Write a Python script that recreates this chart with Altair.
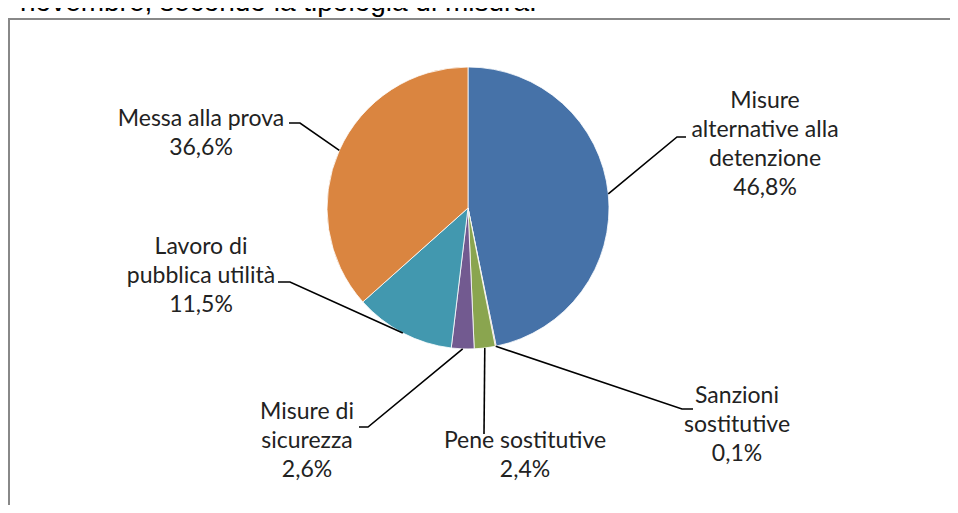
import math
import altair as alt
import pandas as pd

# ---------------- data ----------------
categories = [
    "Misure alternative alla detenzione",
    "Sanzioni sostitutive",
    "Pene sostitutive",
    "Misure di sicurezza",
    "Lavoro di pubblica utilità",
    "Messa alla prova",
]
label_names = [
    "Misure\nalternative alla\ndetenzione",
    "Sanzioni\nsostitutive",
    "Pene sostitutive",
    "Misure di\nsicurezza",
    "Lavoro di\npubblica utilità",
    "Messa alla prova",
]
values = [46.8, 0.1, 2.4, 2.6, 11.5, 36.6]
pct_labels = ["46,8%", "0,1%", "2,4%", "2,6%", "11,5%", "36,6%"]
colors = ["#4672A8", "#AA4643", "#8AA54F", "#725A90", "#4298AF", "#DA8540"]
title_text = "novembre, secondo la tipologia di misura."

# ---------------- layout (page pixels) ----------------
W, H = 942, 497
CX, CY, R = 468, 208, 141          # pie centre and radius on the page
label_xy = [(765, 101), (737, 396), (525, 441), (307, 412), (201, 247), (201, 119)]  # first-line centres
elbow_xy = [(677, 137), (682, 409), (484, 434), (368, 427), (290, 282), (300, 123)]
end_xy = [(686, 137), (693, 409), (484, 434), (359, 427), (278, 282), (289, 123)]
title_xy = (20, 11)


def u(px):
    return (px - CX) / R


def v(py):
    return (CY - py) / R


xscale = alt.Scale(domain=[u(8), u(8 + W)], nice=False, zero=False)
yscale = alt.Scale(domain=[v(8 + H), v(8)], nice=False, zero=False)

pie_df = pd.DataFrame({"category": categories, "value": values, "idx": list(range(len(values)))})

# leader lines: start at the slice mid-angle on the rim
rows = []
cum = 0.0
total = sum(values)
for i, (cat, val) in enumerate(zip(categories, values)):
    a = 2 * math.pi * (cum + val / 2) / total
    cum += val
    pts = [(math.sin(a), math.cos(a)),
           (u(elbow_xy[i][0]), v(elbow_xy[i][1])),
           (u(end_xy[i][0]), v(end_xy[i][1]))]
    for k, (px, py) in enumerate(pts):
        rows.append({"category": cat, "k": k, "u": px, "v": py})
lines_df = pd.DataFrame(rows)

lab_df = pd.DataFrame({
    "category": categories,
    "text": [n + "\n" + p for n, p in zip(label_names, pct_labels)],
    "u": [u(x) for x, _ in label_xy],
    "v": [v(y) for _, y in label_xy],
})

title_df = pd.DataFrame({"text": [title_text], "u": [u(title_xy[0])], "v": [v(title_xy[1])]})

X0 = alt.X(datum=0, scale=xscale, axis=None)
Y0 = alt.Y(datum=0, scale=yscale, axis=None)

pie = alt.Chart(pie_df).mark_arc(outerRadius=R, stroke="white", strokeWidth=0.8).encode(
    theta=alt.Theta("value:Q", stack=True),
    order=alt.Order("idx:Q"),
    color=alt.Color("category:N", scale=alt.Scale(domain=categories, range=colors), legend=None),
    x=X0,
    y=Y0,
)

leaders = alt.Chart(lines_df).mark_line(color="black", strokeWidth=1.6).encode(
    x=alt.X("u:Q", scale=xscale, axis=None),
    y=alt.Y("v:Q", scale=yscale, axis=None),
    detail="category:N",
    order="k:Q",
)

labels = alt.Chart(lab_df).mark_text(
    font="Lato", fontSize=23, lineBreak="\n", lineHeight=29,
    align="center", baseline="middle", color="#222222",
).encode(
    x=alt.X("u:Q", scale=xscale, axis=None),
    y=alt.Y("v:Q", scale=yscale, axis=None),
    text="text:N",
)

title = alt.Chart(title_df).mark_text(
    font="Liberation Sans", fontSize=28, align="left", baseline="alphabetic", color="black",
).encode(
    x=alt.X("u:Q", scale=xscale, axis=None),
    y=alt.Y("v:Q", scale=yscale, axis=None),
    text="text:N",
)

frame_top = alt.Chart(pd.DataFrame({"a": [0]})).mark_rule(color="#888888", strokeWidth=2).encode(
    x=alt.value(0), x2=alt.value(W), y=alt.value(11)
)
frame_left = alt.Chart(pd.DataFrame({"a": [0]})).mark_rule(color="#888888", strokeWidth=2).encode(
    x=alt.value(1), y=alt.value(10), y2=alt.value(H)
)

chart = alt.layer(frame_top, frame_left, pie, leaders, labels, title).properties(
    width=W, height=H, padding=0, autosize=alt.AutoSizeParams(type="none"),
    background="white",
).configure_view(stroke=None)

chart.save("out.html", embed_options={"renderer": "svg", "actions": False})
